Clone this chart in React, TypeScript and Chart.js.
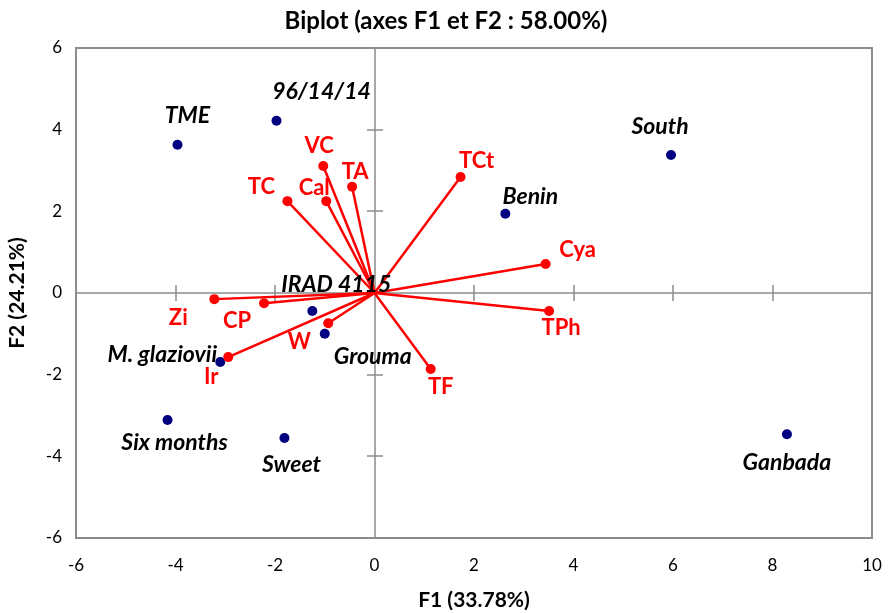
import React, { useEffect, useRef } from "react";
import { Chart, registerables } from "chart.js";

Chart.register(...registerables);

// ---- Data ----
const obsNames = ["TME", "96/14/14", "South", "Benin", "IRAD 4115", "Grouma", "M. glaziovii", "Six months", "Sweet", "Ganbada"];
const obsF1 = [-3.96, -1.97, 5.96, 2.63, -1.25, -1.0, -3.1, -4.16, -1.81, 8.29];
const obsF2 = [3.63, 4.22, 3.38, 1.94, -0.44, -1.0, -1.69, -3.11, -3.55, -3.46];

const varNames = ["VC", "TA", "Cal", "TC", "TCt", "Cya", "TPh", "TF", "W", "Ir", "CP", "Zi"];
const varF1 = [-1.03, -0.45, -0.97, -1.75, 1.73, 3.44, 3.51, 1.13, -0.93, -2.94, -2.22, -3.22];
const varF2 = [3.11, 2.6, 2.25, 2.25, 2.84, 0.71, -0.44, -1.86, -0.74, -1.57, -0.25, -0.15];

const xTickValues = [-6, -4, -2, 0, 2, 4, 6, 8, 10];
const yTickValues = [-6, -4, -2, 0, 2, 4, 6];

const chartTitle = "Biplot (axes F1 et F2 : 58.00%)";
const xTitle = "F1 (33.78%)";
const yTitle = "F2 (24.21%)";

// ---- Styles (label offsets in pixels) ----
const obsLabelOffsets: [number, number][] = [
  [10, -29], [45, -29], [-11, -28], [25, -17], [24, -26], [48, 23], [-58, -7], [7, 23], [7, 27], [0, 28],
];
const varLabelOffsets: [number, number][] = [
  [-4, -20], [3, -15], [-12, -13], [-26, -14], [16, -16], [32, -14], [12, 17], [10, 18], [-29, 19], [-17, 20], [-27, 18], [-36, 19],
];

const FONT = "Lato, 'Open Sans', sans-serif";
const GREY = "#8c8c8c";
const RED = "#ff0000";
const NAVY = "#000080";

const biplotPlugin = {
  id: "biplotDecor",
  beforeDatasetsDraw(chart: any) {
    const { ctx, chartArea, scales } = chart;
    const xs = scales.x;
    const ys = scales.y;
    ctx.save();
    ctx.strokeStyle = GREY;
    ctx.lineWidth = 2;
    ctx.strokeRect(chartArea.left, chartArea.top, chartArea.right - chartArea.left, chartArea.bottom - chartArea.top);
    const x0 = Math.round(xs.getPixelForValue(0));
    const y0 = Math.round(ys.getPixelForValue(0));
    ctx.lineWidth = 1.5;
    ctx.beginPath();
    ctx.moveTo(x0, chartArea.top);
    ctx.lineTo(x0, chartArea.bottom);
    ctx.moveTo(chartArea.left, y0);
    ctx.lineTo(chartArea.right, y0);
    ctx.stroke();
    ctx.beginPath();
    xTickValues.forEach((v) => {
      if (v === 0 || v === xs.min || v === xs.max) return;
      const px = Math.round(xs.getPixelForValue(v));
      ctx.moveTo(px, y0 - 8);
      ctx.lineTo(px, y0 + 8);
    });
    yTickValues.forEach((v) => {
      if (v === 0 || v === ys.min || v === ys.max) return;
      const py = Math.round(ys.getPixelForValue(v));
      ctx.moveTo(x0 - 8, py);
      ctx.lineTo(x0 + 8, py);
    });
    ctx.stroke();
    ctx.restore();
  },
  afterDatasetsDraw(chart: any) {
    const { ctx, scales } = chart;
    const xs = scales.x;
    const ys = scales.y;
    ctx.save();
    ctx.textAlign = "center";
    ctx.textBaseline = "middle";
    ctx.font = `italic bold 23px ${FONT}`;
    ctx.fillStyle = "#000000";
    obsNames.forEach((name, i) => {
      const px = xs.getPixelForValue(obsF1[i]) + obsLabelOffsets[i][0];
      const py = ys.getPixelForValue(obsF2[i]) + obsLabelOffsets[i][1];
      ctx.fillText(name, px, py);
    });
    ctx.font = `bold 22px ${FONT}`;
    ctx.fillStyle = RED;
    varNames.forEach((name, i) => {
      const px = xs.getPixelForValue(varF1[i]) + varLabelOffsets[i][0];
      const py = ys.getPixelForValue(varF2[i]) + varLabelOffsets[i][1];
      ctx.fillText(name, px, py);
    });
    // chart title
    ctx.font = `bold 24px ${FONT}`;
    ctx.fillStyle = "#000000";
    ctx.fillText(chartTitle, 446, 21);
    ctx.restore();
  },
};

export default function App() {
  const canvasRef = useRef<HTMLCanvasElement | null>(null);

  useEffect(() => {
    document.body.style.margin = "0";
    const canvas = canvasRef.current;
    if (!canvas) return;

    const vectorDatasets = varNames.map((name, i) => ({
      type: "scatter" as const,
      label: name,
      data: [
        { x: 0, y: 0 },
        { x: varF1[i], y: varF2[i] },
      ],
      showLine: true,
      borderColor: RED,
      backgroundColor: RED,
      borderWidth: 2.5,
      pointRadius: [0, 5],
      pointHoverRadius: [0, 5],
      pointBorderWidth: 0,
    }));

    const obsDataset = {
      type: "scatter" as const,
      label: "Observations",
      data: obsNames.map((_, i) => ({ x: obsF1[i], y: obsF2[i] })),
      showLine: false,
      backgroundColor: NAVY,
      borderColor: NAVY,
      pointRadius: 5,
      pointBorderWidth: 0,
    };

    const chart = new Chart(canvas, {
      type: "scatter",
      data: { datasets: [...vectorDatasets, obsDataset] as any },
      plugins: [biplotPlugin],
      options: {
        animation: false,
        responsive: false,
        devicePixelRatio: 1,
        layout: { padding: { left: 0, right: 20, top: 48, bottom: 0 } },
        plugins: {
          legend: { display: false },
          tooltip: { enabled: false },
          title: { display: false },
        },
        scales: {
          x: {
            type: "linear",
            min: -6,
            max: 10,
            afterBuildTicks: (scale: any) => {
              scale.ticks = xTickValues.map((v) => ({ value: v }));
            },
            afterFit: (scale: any) => {
              scale.height = 75;
            },
            grid: { display: false, drawTicks: true, tickLength: 17 },
            border: { display: false },
            ticks: {
              color: "#000000",
              font: { family: FONT, size: 17 },
              padding: 0,
            },
            title: {
              display: true,
              text: xTitle,
              color: "#000000",
              font: { family: FONT, size: 21, weight: "bold" },
              padding: { top: 0, bottom: 0 },
            },
          },
          y: {
            type: "linear",
            min: -6,
            max: 6,
            afterBuildTicks: (scale: any) => {
              scale.ticks = yTickValues.map((v) => ({ value: v }));
            },
            afterFit: (scale: any) => {
              scale.width = 76;
            },
            grid: { display: false, drawTicks: false },
            border: { display: false },
            ticks: {
              color: "#000000",
              font: { family: FONT, size: 17 },
              padding: 14,
            },
            title: {
              display: true,
              text: yTitle,
              color: "#000000",
              font: { family: FONT, size: 21, weight: "bold" },
              padding: { top: 5, bottom: 0 },
            },
          },
        },
      } as any,
    });

    return () => {
      chart.destroy();
    };
  }, []);

  return (
    <div style={{ width: 892, height: 613 }}>
      <canvas ref={canvasRef} width={892} height={613} style={{ display: "block" }} />
    </div>
  );
}
